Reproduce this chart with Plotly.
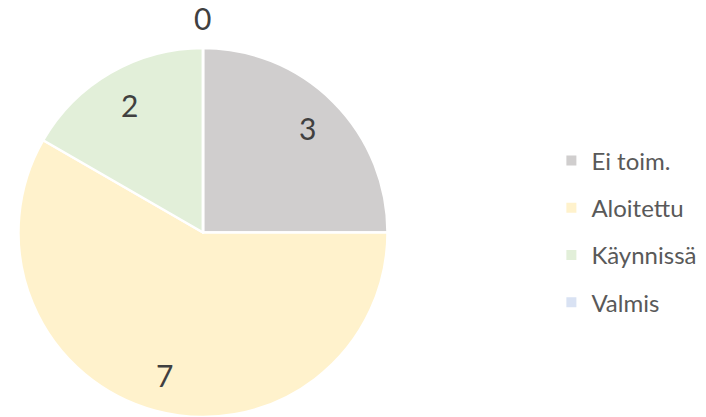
import math
import plotly.graph_objects as go

categories = ["Ei toim.", "Aloitettu", "Käynnissä", "Valmis"]
values = [3, 7, 2, 0]
colors = ["#d0cece", "#fff2cc", "#e2efd9", "#d9e2f3"]

W, H = 706, 417
dom_x = [18 / W, 388 / W]
dom_y = [0.0, 0.885]

fig = go.Figure()
fig.add_trace(go.Pie(
    labels=categories, values=values, sort=False, direction="clockwise",
    rotation=0, marker=dict(colors=colors, line=dict(color="white", width=2.5)),
    textinfo="none", hoverinfo="label+value", showlegend=False,
    domain=dict(x=dom_x, y=dom_y),
))

# legend entries
for c, col in zip(categories, colors):
    fig.add_trace(go.Scatter(
        x=[None], y=[None], mode="markers", name=c, legendgroup=c,
        marker=dict(symbol="square", size=10, color=col),
    ))

# value labels placed from data geometry
cx = (dom_x[0] + dom_x[1]) / 2 * W
ry = (dom_y[1] - dom_y[0]) * H
rx = (dom_x[1] - dom_x[0]) * W
r = min(rx, ry) / 2
cy = H - (dom_y[0] + dom_y[1]) / 2 * H
total = sum(values)
cum = 0
for v in values:
    mid = (cum + v / 2) / total * 2 * math.pi
    cum += v
    f = 0.8 if v > 0 else 1.16
    px = cx + f * r * math.sin(mid)
    py = cy - f * r * math.cos(mid)
    fig.add_annotation(x=px / W, y=1 - py / H, xref="paper", yref="paper",
                       text=str(v), showarrow=False,
                       font=dict(size=30, color="#404040", family="Lato"),
                       xanchor="center", yanchor="middle")

fig.update_layout(
    width=W, height=H, margin=dict(l=0, r=0, t=0, b=0),
    paper_bgcolor="white", plot_bgcolor="white",
    xaxis=dict(visible=False), yaxis=dict(visible=False),
    legend=dict(x=0.781, y=0.445, xanchor="left", yanchor="middle",
                font=dict(size=24, color="#595959", family="Lato"),
                tracegroupgap=13, itemclick=False),
)
fig.write_html("out.html", post_script="document.body.style.margin='0';",
               config={"displayModeBar": False})
